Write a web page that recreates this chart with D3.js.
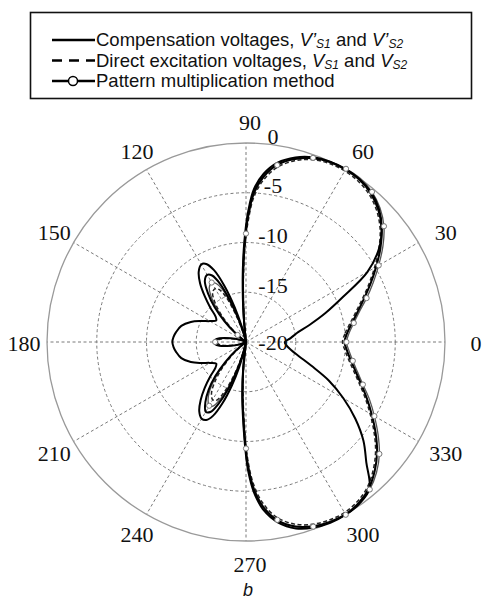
<!DOCTYPE html>
<html>
<head>
<meta charset="utf-8">
<script src="https://cdnjs.cloudflare.com/ajax/libs/d3/7.8.5/d3.min.js"></script>
<style>
    html, body { margin: 0; padding: 0; background: #fff; }
    svg { display: block; }
</style>
</head>
<body>
<div id="chart"></div>
<script>
// angles in degrees (counter-clockwise from 0 = east), denser where the lobes are steep
var angleDeg = [0, 5, 10, 15, 20, 25, 30, 35, 40, 45, 50, 55, 60, 65, 70, 75, 80, 84, 87, 89,
    90, 91, 92, 93, 95, 98, 102, 105, 108, 111, 114, 117, 120, 124, 128, 132, 136, 140, 144, 150,
    155, 160, 166, 172, 176, 180, 184, 188, 194, 200, 205, 210, 216, 220, 224, 228, 232, 236, 240, 243,
    246, 249, 252, 255, 258, 262, 264, 266, 268, 270, 271, 273, 276, 280, 285, 290, 295, 300, 305, 310,
    315, 320, 325, 330, 335, 340, 345, 350, 355];

// compensation voltages (solid)
var compensation = [-10.1, -9.8, -9.2, -8.4, -7.4, -6.2, -4.9, -3.5, -2.2, -1.2, -0.5, -0.1, 0, -0.05, -0.35, -0.95, -1.9, -3.3, -5.0, -7.3,
    -8.8, -10.5, -12.4, -14.2, -17.5, -20, -20, -19.2, -17.6, -15.6, -13.6, -12.5, -12.2, -12.6, -13.8, -15.3, -17.0, -18.6, -19.8, -20,
    -20, -19.3, -18.4, -17.3, -16.9, -16.8, -16.9, -17.3, -18.4, -19.3, -20, -20, -19.8, -18.7, -17.1, -15.4, -13.9, -12.7, -11.9, -12.1,
    -13.2, -14.8, -16.8, -18.6, -20, -20, -17.5, -15.0, -12.4, -9.0, -7.4, -5.2, -3.3, -1.8, -0.8, -0.3, -0.05, 0, -0.25, -0.8,
    -1.7, -2.8, -4.1, -5.4, -6.6, -7.7, -8.6, -9.3, -9.8];

// second solid trace (deep notch at 0, large back lobe at 180)
var solidOuter = [-16.1, -15.5, -14.8, -13.4, -11.5, -9.2, -5.9, -3.7, -2.2, -1.1, -0.4, -0.05, 0.05, 0, -0.25, -0.8, -1.7, -3.0, -4.6, -6.8,
    -8.3, -10.0, -11.8, -13.6, -17.0, -20, -20, -18.6, -16.4, -14.0, -12.1, -11.2, -11.0, -11.5, -12.5, -13.8, -15.0, -16.0, -16.3, -15.8,
    -15.0, -14.1, -13.3, -12.9, -12.7, -12.6, -12.7, -12.9, -13.3, -14.1, -15.0, -15.8, -16.3, -16.0, -15.0, -13.8, -12.6, -11.6, -11.1, -11.2,
    -11.9, -13.4, -15.4, -17.4, -19.5, -20, -17.2, -14.6, -12.0, -8.6, -7.0, -4.9, -3.0, -1.6, -0.6, -0.15, 0.05, 0.05, -0.15, -0.7,
    -2.9, -4.6, -6.6, -8.7, -10.8, -13.0, -14.5, -15.4, -15.9];

// direct excitation voltages (dashed)
var directExcitation = [-10.3, -10.0, -9.4, -8.6, -7.6, -6.4, -5.1, -3.7, -2.4, -1.4, -0.7, -0.3, -0.15, -0.2, -0.5, -1.15, -2.2, -3.7, -5.5, -7.9,
    -9.4, -11.1, -13.0, -14.8, -18.0, -20, -20, -19.7, -18.5, -16.8, -15.0, -14.1, -13.8, -14.0, -14.9, -16.2, -17.7, -19.1, -20, -20,
    -20, -19.5, -18.7, -17.6, -17.2, -17.1, -17.2, -17.6, -18.7, -19.5, -20, -20, -20, -19.3, -17.9, -16.3, -14.9, -13.8, -13.3, -13.4,
    -14.3, -15.8, -17.6, -19.2, -20, -20, -18.0, -15.6, -13.0, -9.6, -8.0, -5.7, -3.7, -2.1, -1.05, -0.5, -0.25, -0.2, -0.45, -1.0,
    -1.9, -3.0, -4.3, -5.6, -6.8, -7.9, -8.8, -9.5, -10.0];

// pattern multiplication method (line with circles)
var patternMult = [-9.9, -9.6, -9.0, -8.2, -7.1, -5.9, -4.6, -3.2, -1.9, -0.95, -0.3, 0.05, 0.1, 0, -0.3, -0.9, -1.95, -3.4, -5.2, -7.6,
    -9.1, -10.8, -12.7, -14.5, -17.8, -20, -20, -19.5, -18.0, -16.2, -14.3, -13.4, -13.1, -13.4, -14.4, -15.8, -17.4, -18.9, -20, -20,
    -20, -19.4, -18.5, -17.4, -17.0, -16.9, -17.0, -17.4, -18.5, -19.4, -20, -20, -20, -19.0, -17.5, -15.8, -14.3, -13.2, -12.6, -12.8,
    -13.8, -15.3, -17.2, -18.9, -20, -20, -17.8, -15.3, -12.7, -9.3, -7.7, -5.4, -3.4, -1.85, -0.8, -0.25, 0, 0.05, -0.15, -0.65,
    -1.45, -2.5, -3.8, -5.1, -6.3, -7.5, -8.4, -9.1, -9.6];

var ringValues = [0, -5, -10, -15, -20];
var spokeAngles = [0, 30, 60, 90, 120, 150, 180, 210, 240, 270, 300, 330];

[compensation, solidOuter, directExcitation, patternMult].forEach(function (s) {
    if (s.length !== angleDeg.length) {
        throw new Error('series length ' + s.length + ' != ' + angleDeg.length);
    }
});

var width = 494, height = 599;
var cx = 246, cy = 342, R = 199;

var svg = d3.select('#chart').append('svg')
    .attr('width', width)
    .attr('height', height);

var r = d3.scaleLinear().domain([-20, 0]).range([0, R]);

function rad(deg) { return deg * Math.PI / 180; }

var g = svg.append('g').attr('transform', 'translate(' + cx + ',' + cy + ')');

// grid rings
g.selectAll('circle.ring')
    .data(ringValues.filter(function (v) { return v > -20 && v < 0; }))
    .enter().append('circle')
    .attr('class', 'ring')
    .attr('r', function (v) { return r(v); })
    .attr('fill', 'none')
    .attr('stroke', '#7a7a7a')
    .attr('stroke-width', 1)
    .attr('stroke-dasharray', '3,2.5');

// spokes
g.selectAll('line.spoke')
    .data(spokeAngles)
    .enter().append('line')
    .attr('class', 'spoke')
    .attr('x1', 0).attr('y1', 0)
    .attr('x2', function (a) { return R * Math.cos(rad(a)); })
    .attr('y2', function (a) { return -R * Math.sin(rad(a)); })
    .attr('stroke', '#7a7a7a')
    .attr('stroke-width', 1)
    .attr('stroke-dasharray', '3,2.5');

// outer circle
g.append('circle')
    .attr('r', r(0))
    .attr('fill', 'none')
    .attr('stroke', '#999')
    .attr('stroke-width', 1.3);

// angle labels
svg.selectAll('text.ang')
    .data(spokeAngles)
    .enter().append('text')
    .attr('class', 'ang')
    .attr('x', function (a) { return cx + 4 + 226 * Math.cos(rad(a)); })
    .attr('y', function (a) { return cy + 1 - 221 * Math.sin(rad(a)); })
    .attr('text-anchor', 'middle')
    .attr('dominant-baseline', 'central')
    .attr('font-family', '"Liberation Serif", "DejaVu Serif", serif')
    .attr('font-size', 22)
    .attr('fill', '#111')
    .text(function (a) { return a; });

function seriesPoints(values) {
    return angleDeg.map(function (a, i) { return {a: a, v: values[i]}; });
}

var line = d3.lineRadial()
    .angle(function (d) { return rad(90 - d.a); })
    .radius(function (d) { return r(Math.max(d.v, -20)); })
    .curve(d3.curveCatmullRomClosed.alpha(0.5));

// pattern multiplication
g.append('path')
    .attr('d', line(seriesPoints(patternMult)))
    .attr('fill', 'none')
    .attr('stroke', '#555')
    .attr('stroke-width', 1.3);

// direct excitation
g.append('path')
    .attr('d', line(seriesPoints(directExcitation)))
    .attr('fill', 'none')
    .attr('stroke', '#222')
    .attr('stroke-width', 1.5)
    .attr('stroke-dasharray', '4,2.5');

// compensation
g.append('path')
    .attr('d', line(seriesPoints(compensation)))
    .attr('fill', 'none')
    .attr('stroke', '#000')
    .attr('stroke-width', 2);

g.append('path')
    .attr('d', line(seriesPoints(solidOuter)))
    .attr('fill', 'none')
    .attr('stroke', '#000')
    .attr('stroke-width', 2);

// circle markers on the pattern multiplication trace
var markers = seriesPoints(patternMult).filter(function (d) { return d.a % 10 === 0 && d.v > -19; });
g.selectAll('circle.mk')
    .data(markers)
    .enter().append('circle')
    .attr('class', 'mk')
    .attr('cx', function (d) { return r(d.v) * Math.cos(rad(d.a)); })
    .attr('cy', function (d) { return -r(d.v) * Math.sin(rad(d.a)); })
    .attr('r', 2.6)
    .attr('fill', '#fff')
    .attr('stroke', '#777')
    .attr('stroke-width', 1);

// radial (dB) labels
svg.selectAll('text.db')
    .data(ringValues)
    .enter().append('text')
    .attr('class', 'db')
    .attr('x', cx + 27)
    .attr('y', function (v) { return cy - r(v) - (v > -20 ? 7 : 0); })
    .attr('text-anchor', 'middle')
    .attr('dominant-baseline', 'central')
    .attr('font-family', '"Liberation Serif", "DejaVu Serif", serif')
    .attr('font-size', 22)
    .attr('fill', '#111')
    .text(function (v) { return v; });

// legend
var lg = svg.append('g');
lg.append('rect')
    .attr('x', 30.5).attr('y', 12.5)
    .attr('width', 441).attr('height', 86)
    .attr('fill', '#fff')
    .attr('stroke', '#111')
    .attr('stroke-width', 1.6);

var legendRows = [
    {y: 40, dash: null, marker: false, parts: [['Compensation voltages, ', ''], ['V\u2019', 'i'], ['S1', 'sub'], [' and ', ''], ['V\u2019', 'i'], ['S2', 'sub']]},
    {y: 60.5, dash: '10,7', marker: false, parts: [['Direct excitation voltages, ', ''], ['V', 'i'], ['S1', 'sub'], [' and ', ''], ['V', 'i'], ['S2', 'sub']]},
    {y: 81, dash: null, marker: true, parts: [['Pattern multiplication method', '']]}
];

legendRows.forEach(function (row) {
    lg.append('line')
        .attr('x1', 52).attr('x2', 95)
        .attr('y1', row.y).attr('y2', row.y)
        .attr('stroke', '#000')
        .attr('stroke-width', 2.5)
        .attr('stroke-dasharray', row.dash);
    if (row.marker) {
        lg.append('circle')
            .attr('cx', 73).attr('cy', row.y).attr('r', 4.5)
            .attr('fill', '#fff').attr('stroke', '#000').attr('stroke-width', 1.5);
    }
    var t = lg.append('text')
        .attr('x', 96).attr('y', row.y + 6.3)
        .attr('font-family', '"Liberation Sans", Arial, sans-serif')
        .attr('font-size', 18.5)
        .attr('fill', '#111');
    var shifted = false;
    row.parts.forEach(function (p) {
        var ts = t.append('tspan').text(p[0]);
        if (p[1] === 'i') ts.attr('font-style', 'italic');
        if (p[1] === 'sub') {
            ts.attr('font-style', 'italic').attr('font-size', 12);
            if (!shifted) ts.attr('dy', 2);
            shifted = true;
        } else if (shifted) {
            ts.attr('dy', -2);
            shifted = false;
        }
    });
});

// caption
svg.append('text')
    .attr('x', 248).attr('y', 590)
    .attr('text-anchor', 'middle')
    .attr('dominant-baseline', 'central')
    .attr('font-family', '"Liberation Sans", Arial, sans-serif')
    .attr('font-style', 'italic')
    .attr('font-size', 18)
    .attr('fill', '#111')
    .text('b');
</script>
</body>
</html>
